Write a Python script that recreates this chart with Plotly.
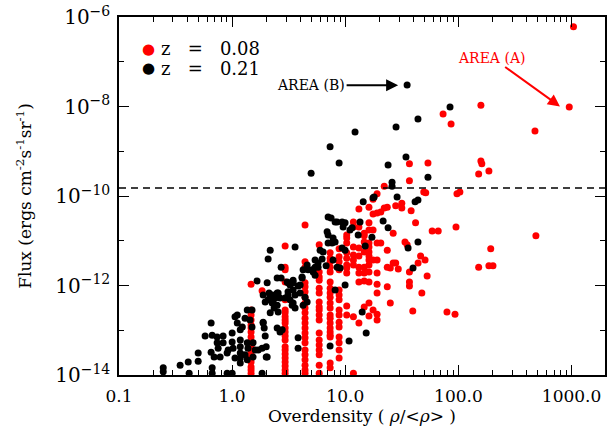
import math
import plotly.graph_objects as go

# ---------------- data ----------------
# z = 0.08 sample (red): overdensities are quantised, so store column by column
red_column_x = [1.47, 1.84, 2.94, 4.41, 5.88, 7.35, 8.82, 10.3, 11.8, 13.2, 14.7,
                16.2, 17.6, 19.1, 20.6, 22.1, 23.5, 25.0, 26.5, 27.9, 29.4]
# log10 of flux (ergs cm^-2 s^-1 sr^-1) for each column
red_column_logflux = [
    [-11.97, -12.55, -12.66, -12.77, -12.88, -12.95, -13.04, -13.15, -13.26, -13.37, -13.49, -13.60, -13.71, -13.82, -13.89, -13.96],
    [-12.12],
    [-11.12, -11.59, -11.65, -11.92, -12.32, -12.55, -12.61, -12.70, -12.77, -12.84, -12.95, -13.04, -13.13, -13.22, -13.37, -13.44, -13.53, -13.62, -13.71, -13.80, -13.89, -13.96],
    [-10.65, -11.47, -11.59, -11.94, -12.03, -12.14, -12.26, -12.39, -12.50, -12.61, -12.73, -12.84, -12.95, -13.06, -13.17, -13.28, -13.44, -13.55, -13.66, -13.78, -13.89, -13.96],
    [-11.09, -11.70, -11.81, -11.88, -12.06, -12.17, -12.37, -12.48, -12.55, -12.66, -12.77, -13.06, -13.22, -13.33, -13.44, -13.55, -13.78, -13.96],
    [-11.27, -11.39, -11.47, -11.59, -11.70, -11.92, -12.06, -12.17, -12.26, -12.39, -12.50, -12.66, -12.73, -12.84, -12.95, -13.04, -13.11, -13.15, -13.73, -13.84],
    [-11.18, -11.36, -11.47, -11.65, -12.10, -12.21, -12.32, -12.55, -12.66, -12.82, -12.93, -13.15, -13.28, -13.44, -13.62],
    [-10.87, -10.94, -11.05, -11.27, -11.39, -11.54, -11.61, -11.72, -12.46, -12.66],
    [-10.58, -10.69, -11.14, -11.32, -11.43, -11.54, -12.70, -13.96],
    [-10.29, -10.69, -11.16, -11.34, -11.59, -11.72, -11.92, -12.84],
    [-10.83, -10.89, -11.03, -11.25, -11.59, -11.72, -11.90, -12.48],
    [-10.25, -10.60, -10.76, -11.05, -11.14, -11.25, -11.34, -11.43, -11.54, -11.70, -11.92, -12.39, -12.68],
    [-10.07, -10.40, -10.76, -11.43, -12.55],
    [-9.95, -10.38, -11.05, -11.43, -11.72, -11.97, -12.17, -12.64, -12.77],
    [-10.36, -11.05],
    [-9.78, -10.27],
    [-10.25, -11.21, -11.59, -12.03],
    [-11.61, -12.39],
    [-10.83, -11.50],
    [-10.22, -11.50],
    [-11.63],
]
# remaining z = 0.08 points at higher overdensity
red_extra_x = [31.6, 31.6, 33.7, 35.2, 36.9, 36.9, 36.9, 36.9, 36.9, 38.2, 39.5, 41.8,
               44.0, 46.3, 47.5, 49.4, 51.4, 50.7, 52.9, 53.8, 58.6, 66.3, 73.2, 79.2,
               86.1, 93.3, 95.2, 97.1, 103, 151, 151, 158, 158, 161, 186, 186, 202,
               193, 475, 484, 954, 1040]
red_extra_logflux = [-10.16, -10.27, -11.03, -11.09, -9.28, -9.66, -11.70, -11.92, -12.01,
                     -10.33, -12.57, -10.60, -11.50, -11.34, -12.17, -9.91, -9.93, -11.43,
                     -11.79, -9.26, -10.78, -10.78, -8.17, -12.59, -8.39, -12.64, -10.69,
                     -9.95, -9.91, -9.51, -11.59, -7.97, -9.22, -9.28, -9.44, -11.56,
                     -11.56, -11.18, -8.55, -10.89, -8.01, -6.22]

# z = 0.21 sample (black)
black_x = [0.246, 0.246, 0.347, 0.409, 0.417, 0.501, 0.501, 0.577, 0.652, 0.666,
           0.652, 0.693, 0.666, 0.666, 0.737, 0.737, 0.752, 0.832, 0.832, 0.783,
           0.903, 0.922, 0.903, 1.00, 1.00, 1.00, 1.02, 1.06, 1.06, 1.11,
           1.11, 1.23, 1.18, 1.18, 1.18, 1.18, 1.18, 1.18, 1.30, 1.36,
           1.36, 1.38, 1.30, 1.36, 1.53, 1.60, 1.53, 1.50, 1.66, 1.84,
           1.88, 1.92, 1.96, 2.00, 2.00, 2.04, 2.17, 2.08, 2.08, 2.17,
           2.40, 2.50, 2.50, 2.71, 2.30, 2.35, 2.55, 2.50, 2.77, 3.06,
           3.25, 3.12, 3.46, 3.25, 3.39, 3.60, 3.60, 3.46, 3.83, 3.99,
           4.15, 4.24, 4.60, 4.69, 3.12, 3.46, 3.83, 5.20, 5.41, 2.12,
           2.26, 2.55, 2.65, 2.26, 2.50, 1.88, 1.96, 2.94, 3.12, 3.60,
           3.99, 4.41, 4.60, 4.24, 3.46, 2.17, 1.44, 1.88, 1.50, 2.65,
           1.70, 1.84, 2.04, 3.83, 8.13, 7.34, 7.05, 7.49, 8.13, 6.91,
           7.05, 7.80, 8.13, 7.05, 7.64, 5.99, 6.37, 2.71, 5.41, 5.75,
           6.24, 5.09, 5.41, 5.75, 4.15, 6.77, 7.80, 8.47, 18.0, 21.6,
           8.47, 9.38, 9.96, 9.57, 13.5, 11.5, 11.0, 13.0, 23.9, 17.2,
           15.0, 9.38, 9.96, 43.9, 35.9, 9.00, 39.7, 9.96, 14.1, 15.3,
           10.8, 35.2, 84.3, 43.9, 28.1, 12.2, 7.34, 8.82, 4.99, 34.4,
           23.9, 53.8, 25.9, 25.9, 28.7, 17.6, 14.4, 43.9, 41.4]
black_logflux = [-13.84, -13.93, -13.78, -13.71, -13.96, -13.51, -13.69, -13.13, -12.84, -13.11,
                 -13.49, -13.60, -13.84, -13.96, -13.15, -13.28, -13.40, -13.13, -13.28, -13.60,
                 -13.51, -13.44, -13.96, -13.96, -13.06, -13.26, -13.40, -13.62, -12.70, -12.66,
                 -12.84, -12.93, -12.99, -13.22, -13.37, -13.51, -13.62, -13.73, -12.73, -12.55,
                 -13.28, -13.40, -13.55, -13.66, -13.28, -13.44, -13.60, -12.55, -11.90, -13.96,
                 -12.82, -12.95, -13.13, -13.37, -13.60, -11.94, -12.26, -12.32, -11.41, -11.21,
                 -12.28, -12.17, -11.83, -11.83, -12.37, -12.50, -12.59, -12.95, -12.99, -11.92,
                 -11.99, -12.14, -12.10, -12.32, -12.44, -12.50, -11.14, -11.88, -13.40, -11.99,
                 -11.83, -11.65, -11.54, -11.65, -11.94, -11.94, -12.01, -11.70, -11.77, -12.17,
                 -12.21, -12.17, -12.28, -12.39, -12.44, -12.21, -12.37, -12.28, -12.21, -12.21,
                 -12.17, -12.26, -12.37, -12.44, -12.39, -12.61, -12.77, -12.84, -12.93, -13.04,
                 -13.44, -13.40, -13.60, -13.17, -12.10, -13.35, -10.47, -10.49, -10.58, -10.80,
                 -10.87, -10.94, -11.03, -11.05, -11.05, -11.21, -11.25, -11.59, -11.43, -11.50,
                 -11.41, -11.65, -11.59, -11.59, -11.81, -11.56, -11.43, -11.59, -10.02, -10.56,
                 -10.58, -10.58, -10.60, -10.69, -10.58, -10.71, -10.76, -10.87, -10.71, -10.92,
                 -11.12, -11.16, -11.21, -11.03, -11.16, -11.61, -11.61, -11.99, -12.59, -13.06,
                 -13.24, -7.52, -8.01, -8.28, -8.46, -8.57, -8.90, -9.26, -9.49, -9.13,
                 -9.31, -9.58, -9.69, -9.78, -10.02, -10.04, -10.13, -10.09, -10.13]

threshold_flux = 1.5e-10          # dashed horizontal line
area_a_point = (790, 1.0e-8)      # arrow tip for AREA (A)
area_b_point = (29.3, 3.0e-8)     # arrow tip for AREA (B)

NB = "\u00a0"
series_names = ["z" + NB * 3 + "=" + NB * 3 + "0.08", "z" + NB * 3 + "=" + NB * 3 + "0.21"]
series_colors = ["#ff0000", "#000000"]
x_tick_values = [0.1, 1, 10, 100, 1000]
x_tick_labels = ["0.1", "1.0", "10.0", "100.0", "1000.0"]
y_tick_exponents = [-14, -12, -10, -8, -6]

# ---------------- build flat series ----------------
red_x, red_flux = [], []
for cx, col in zip(red_column_x, red_column_logflux):
    for v in col:
        red_x.append(cx)
        red_flux.append(10 ** v)
for cx, v in zip(red_extra_x, red_extra_logflux):
    red_x.append(cx)
    red_flux.append(10 ** v)
blk_flux = [10 ** v for v in black_logflux]

FONT = "DejaVu Serif"
X_RANGE = [-1, math.log10(1975)]
Y_RANGE = [-14, -6]

fig = go.Figure()
fig.add_trace(go.Scatter(x=red_x, y=red_flux, mode="markers", name=series_names[0],
                         marker=dict(color=series_colors[0], size=7, line=dict(width=0))))
fig.add_trace(go.Scatter(x=black_x, y=blk_flux, mode="markers", name=series_names[1],
                         marker=dict(color=series_colors[1], size=7, line=dict(width=0))))
# empty trace that carries the mirrored (top / right) axes
fig.add_trace(go.Scatter(x=[None], y=[None], xaxis="x2", yaxis="y2", mode="markers",
                         showlegend=False, hoverinfo="skip"))

# key drawn in the plot corner, as in the reference
key_rows_y = [0.911, 0.857]
for nm, col, ky in zip(series_names, series_colors, key_rows_y):
    fig.add_annotation(xref="paper", yref="paper", x=0.0597, y=ky, text="●",
                       showarrow=False, xanchor="center", yanchor="middle",
                       font=dict(family="DejaVu Sans", size=15, color=col))
    fig.add_annotation(xref="paper", yref="paper", x=0.083, y=ky, text=nm,
                       showarrow=False, xanchor="left", yanchor="middle",
                       font=dict(family=FONT, size=18, color="black"))

fig.add_shape(type="line", xref="paper", x0=0, x1=1, yref="y",
              y0=threshold_flux, y1=threshold_flux,
              line=dict(color="black", width=1.5, dash="7px,5px"))

# AREA (B)
fig.add_annotation(x=math.log10(area_b_point[0]), y=math.log10(area_b_point[1]),
                   xref="x", yref="y", text="AREA (B)", showarrow=True, ax=-87, ay=0,
                   arrowhead=2, arrowsize=1.2, arrowwidth=2, arrowcolor="black", standoff=0,
                   font=dict(family=FONT, size=14, color="black"))
# AREA (A)
fig.add_annotation(x=math.log10(area_a_point[0]), y=math.log10(area_a_point[1]),
                   xref="x", yref="y", text="AREA (A)", showarrow=True, ax=-68, ay=-49,
                   arrowhead=2, arrowsize=1.2, arrowwidth=2, arrowcolor="#ff0000", standoff=0,
                   font=dict(family=FONT, size=14, color="#ff0000"))

minor_x = [m * 10 ** e for e in range(-1, 4) for m in range(2, 10)]
minor_x = [v for v in minor_x if v <= 1975]
minor_y = [10.0 ** e for e in (-13, -11, -9, -7)]

common = dict(ticks="inside", ticklen=10, tickwidth=1.2, tickcolor="black",
              showline=True, linecolor="black", linewidth=1.5,
              showgrid=False, zeroline=False, automargin=False)
minor_x_cfg = dict(ticks="inside", ticklen=5, tickwidth=1.2, tickcolor="black",
                   tickmode="array", tickvals=minor_x, showgrid=False)
minor_y_cfg = dict(ticks="inside", ticklen=5, tickwidth=1.2, tickcolor="black",
                   tickmode="array", tickvals=minor_y, showgrid=False)
y_tick_vals = [10.0 ** e for e in y_tick_exponents]

fig.update_layout(
    xaxis=dict(type="log", range=X_RANGE,
               tickmode="array", tickvals=x_tick_values, ticktext=x_tick_labels,
               minor=minor_x_cfg, ticklabelstandoff=5,
               tickfont=dict(family=FONT, size=17, color="black"),
               title=dict(text="Overdensity ( <i>ρ</i>/&lt;<i>ρ</i>&gt; )",
                          font=dict(family=FONT, size=17, color="black"), standoff=4),
               **common),
    yaxis=dict(type="log", range=Y_RANGE,
               tickmode="array", tickvals=y_tick_vals,
               ticktext=["10<sup>−%d</sup>" % (-e) for e in y_tick_exponents],
               minor=minor_y_cfg, ticklabelstandoff=3,
               tickfont=dict(family=FONT, size=20, color="black"),
               title=dict(text="Flux (ergs cm<sup>-2</sup>s<sup>-1</sup>sr<sup>-1</sup>)",
                          font=dict(family=FONT, size=17, color="black"), standoff=19),
               **common),
    xaxis2=dict(type="log", range=X_RANGE, overlaying="x", side="top", anchor="y2",
                tickmode="array", tickvals=x_tick_values, showticklabels=False,
                minor=minor_x_cfg, **common),
    yaxis2=dict(type="log", range=Y_RANGE, overlaying="y", side="right", anchor="x2",
                tickmode="array", tickvals=y_tick_vals, showticklabels=False,
                minor=minor_y_cfg, **common),
    width=616, height=433, margin=dict(l=119, r=11, t=17, b=58),
    paper_bgcolor="white", plot_bgcolor="white", showlegend=False)

fig.write_html("out.html", config={"displayModeBar": False},
               post_script="document.body.style.margin='0';document.body.style.overflow='hidden';")
